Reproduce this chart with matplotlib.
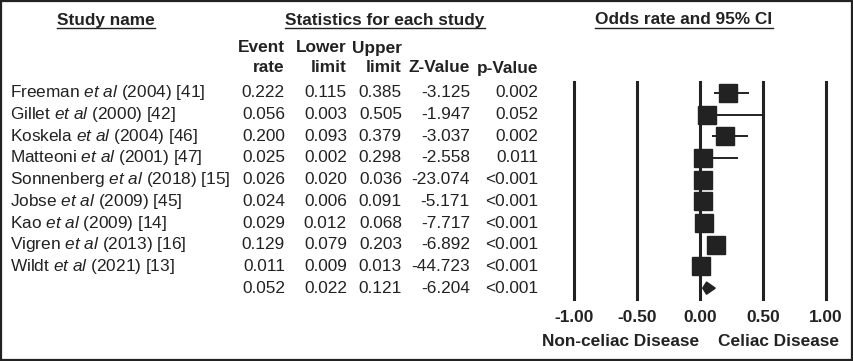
import numpy as np
import matplotlib
matplotlib.use("Agg")
import matplotlib.pyplot as plt
import matplotlib.transforms as mtransforms
from matplotlib.lines import Line2D
from matplotlib.patches import Polygon, Rectangle

plt.rcParams['font.family'] = ['Liberation Sans', 'DejaVu Sans']
plt.rcParams['mathtext.fontset'] = 'custom'
plt.rcParams['mathtext.rm'] = 'Liberation Sans'
plt.rcParams['mathtext.it'] = 'Liberation Sans:italic'

# study data
authors = ['Freeman', 'Gillet', 'Koskela', 'Matteoni', 'Sonnenberg',
           'Jobse', 'Kao', 'Vigren', 'Wildt']
years = ['2004', '2000', '2004', '2001', '2018', '2009', '2009', '2013', '2021']
refs = ['41', '42', '46', '47', '15', '45', '14', '16', '13']
rate = [0.222, 0.056, 0.200, 0.025, 0.026, 0.024, 0.029, 0.129, 0.011]
lower = [0.115, 0.003, 0.093, 0.002, 0.020, 0.006, 0.012, 0.079, 0.009]
upper = [0.385, 0.505, 0.379, 0.298, 0.036, 0.091, 0.068, 0.203, 0.013]
zval = [-3.125, -1.947, -3.037, -2.558, -23.074, -5.171, -7.717, -6.892, -44.723]
pval = ['0.002', '0.052', '0.002', '0.011', '<0.001', '<0.001', '<0.001', '<0.001', '<0.001']

# pooled estimate
pool_rate, pool_lower, pool_upper, pool_z, pool_p = 0.052, 0.022, 0.121, -6.204, '<0.001'

xticks = [-1.0, -0.5, 0.0, 0.5, 1.0]

W, H = 854, 361
ink = '#222222'
fs = 12.4

fig = plt.figure(figsize=(W / 100, H / 100), dpi=100)
# pixel transform, origin top-left
pix = mtransforms.Affine2D().scale(1 / W, -1 / H).translate(0, 1) + fig.transFigure

# forest plot axes
ax = fig.add_axes([574 / W, 1 - 299 / H, 252 / W, 217 / H])
n = len(authors)
ax.set_xlim(-1, 1)
ax.set_ylim(n + 0.5, -0.5)
ax.axis('off')

for xv in xticks:
    ax.axvline(xv, color=ink, lw=2.2, clip_on=False)

rows = np.arange(n)
ax.hlines(rows, lower, upper, color=ink, lw=1.4)
ax.plot(rate, rows, 's', color=ink, ms=13, mec=ink)
dh = 0.28
ax.add_patch(Polygon([[pool_lower, n], [pool_rate, n - dh], [pool_upper, n], [pool_rate, n + dh]],
                     closed=True, color=ink))

xpix = mtransforms.blended_transform_factory(ax.transData, pix)
for xv in xticks:
    ax.text(xv, 317, '%.2f' % xv, transform=xpix,
            ha='center', va='center', fontsize=fs, fontweight='bold', color=ink)
ax.text(-0.63, 342, 'Non-celiac Disease', transform=xpix,
        ha='center', va='center', fontsize=fs, fontweight='bold', color=ink)
ax.text(0.62, 342, 'Celiac Disease', transform=xpix,
        ha='center', va='center', fontsize=fs, fontweight='bold', color=ink)

# table text
rowt = mtransforms.blended_transform_factory(pix, ax.transData)
for i in range(n):
    label = authors[i] + r' $\mathit{et\ al}$ (' + years[i] + ') [' + refs[i] + ']'
    fig.text(10, i, label, transform=rowt, ha='left', va='center', fontsize=fs, color=ink)
    fig.text(285, i, '%.3f' % rate[i], transform=rowt, ha='right', va='center', fontsize=fs, color=ink)
    fig.text(347, i, '%.3f' % lower[i], transform=rowt, ha='right', va='center', fontsize=fs, color=ink)
    fig.text(402, i, '%.3f' % upper[i], transform=rowt, ha='right', va='center', fontsize=fs, color=ink)
    fig.text(470, i, '%.3f' % zval[i], transform=rowt, ha='right', va='center', fontsize=fs, color=ink)
    fig.text(538, i, pval[i], transform=rowt, ha='right', va='center', fontsize=fs, color=ink)
fig.text(285, n, '%.3f' % pool_rate, transform=rowt, ha='right', va='center', fontsize=fs, color=ink)
fig.text(347, n, '%.3f' % pool_lower, transform=rowt, ha='right', va='center', fontsize=fs, color=ink)
fig.text(402, n, '%.3f' % pool_upper, transform=rowt, ha='right', va='center', fontsize=fs, color=ink)
fig.text(470, n, '%.3f' % pool_z, transform=rowt, ha='right', va='center', fontsize=fs, color=ink)
fig.text(538, n, pool_p, transform=rowt, ha='right', va='center', fontsize=fs, color=ink)

# column headers
hdr = dict(transform=pix, fontsize=fs, fontweight='bold', color=ink, va='center')
fig.text(285, 48, 'Event', ha='right', **hdr)
fig.text(285, 67, 'rate', ha='right', **hdr)
fig.text(347, 48, 'Lower', ha='right', **hdr)
fig.text(347, 67, 'limit', ha='right', **hdr)
fig.text(402, 48, 'Upper', ha='right', **hdr)
fig.text(402, 67, 'limit', ha='right', **hdr)
fig.text(470, 68, 'Z-Value', ha='right', **hdr)
fig.text(538, 68, 'p-Value', ha='right', **hdr)

# underlined group titles
titles = [(106, 'Study name'), (385, 'Statistics for each study'), (684, 'Odds rate and 95% CI')]
fig.canvas.draw()
renderer = fig.canvas.get_renderer()
for xc, s in titles:
    t = fig.text(xc, 20, s, ha='center', **hdr)
    bb = t.get_window_extent(renderer)
    yl = bb.y0 - 0.5
    fig.add_artist(Line2D([bb.x0 / W, bb.x1 / W], [yl / H, yl / H], transform=fig.transFigure,
                          color=ink, lw=1.0))

# border
fig.add_artist(Rectangle((0.001, 0.002), 0.997, 0.995, transform=fig.transFigure,
                         fill=False, ec=ink, lw=1.6))

fig.savefig('out.png', dpi=100)
